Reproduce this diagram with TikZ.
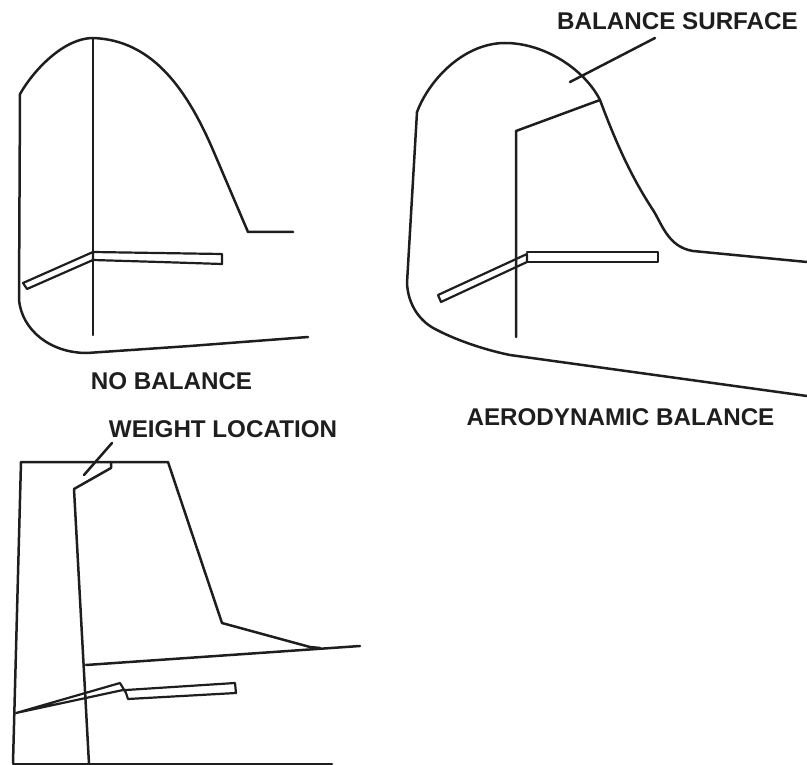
\documentclass[tikz,border=0pt]{standalone}
\usepackage{fontspec}
\setmainfont{Liberation Sans}
\definecolor{ink}{HTML}{1E1E1E}
\tikzset{
  part/.style={draw=ink,line width=2.5pt,line join=round,line cap=round},
  thin part/.style={draw=ink,line width=2.2pt,line join=round,line cap=round},
  lbl/.style={text=ink,font=\fontsize{24.2}{28}\selectfont\bfseries,inner sep=0pt,anchor=center}
}
\begin{document}
\begin{tikzpicture}[x=1pt,y=-1pt]
\useasboundingbox (0,0) rectangle (807,765);
% --- no balance ---
\draw[part] (20,94) .. controls (35,68) and (65,38) .. (93,38) .. controls (150,40) and (185,85) .. (213,150) -- (248,232) -- (293,232);
\draw[part] (20,94) -- (19,300) .. controls (22,330) and (50,353) .. (87,353) -- (190,346) -- (308,337);
\draw[part] (93,38) -- (93,335);
\draw[thin part] (93,252) -- (23,283) -- (27,289) -- (93,260);
\draw[thin part] (93,252) -- (222,254) -- (222,264) -- (160,262) -- (93,260) -- cycle;
% --- aerodynamic balance ---
\draw[part] (417,112) .. controls (430,78) and (465,43) .. (505,43) .. controls (545,43) and (585,70) .. (600,100) .. controls (615,140) and (630,175) .. (653,210) .. controls (662,224) and (668,247) .. (693,251) -- (807,262);
\draw[part] (417,112) -- (407,283) .. controls (408,305) and (420,322) .. (437,330) .. controls (460,342) and (490,351) .. (510,355) -- (807,396);
\draw[part] (600,100) -- (516,131) -- (516,337);
\draw[part] (655,38) -- (570,82);
\draw[thin part] (527,252) -- (658,252) -- (658,262) -- (527,262);
\draw[thin part] (527,254) -- (527,262) -- (441,302) -- (438,295) -- cycle;
% --- weight location ---
\draw[part] (13,763) -- (21,462) -- (168,462) -- (222,623) -- (310,647) -- (320,648);
\draw[part] (111,462) -- (111,468) -- (74,489) -- (89,764);
\draw[part] (86,665) -- (360,646);
\draw[part] (13,764) -- (332,764);
\draw[part] (112,443) -- (84,475);
\draw[thin part] (16,713) -- (120,683) -- (126,693) -- (128,699) -- (236,693) -- (235,683) -- (126,690) -- (123,690) -- cycle;
% --- labels ---
\node[lbl] (bs) at (677.5,21) {BALANCE SURFACE};
\node[lbl] (nb) at (171.5,381) {NO BALANCE};
\node[lbl] (ab) at (620.5,417) {AERODYNAMIC BALANCE};
\node[lbl] (wl) at (223,429) {WEIGHT LOCATION};
\end{tikzpicture}
\end{document}
